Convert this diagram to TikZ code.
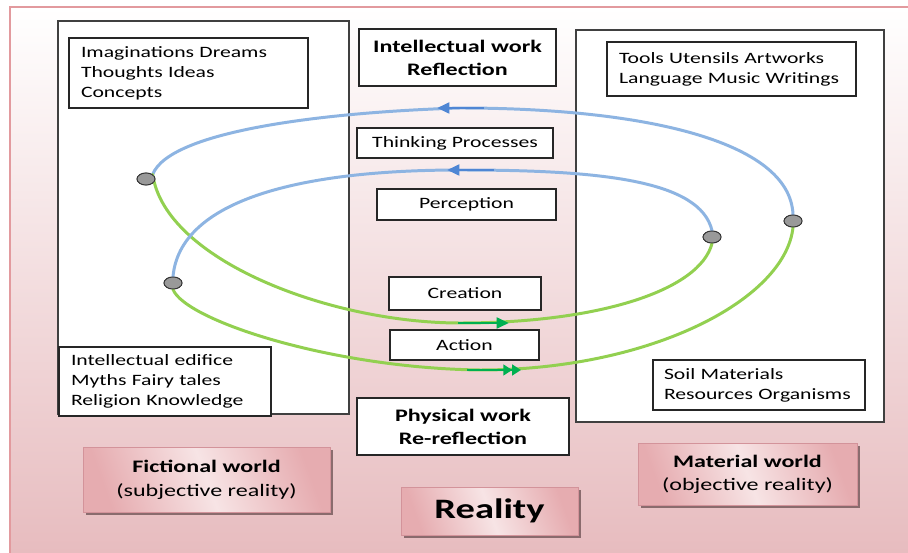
\documentclass[tikz,border=0pt]{standalone}
\usepackage{fontspec}
\setmainfont[FakeStretch=1.37]{Carlito}
\usetikzlibrary{arrows.meta,shadows,shapes.geometric}

\definecolor{bgpink}{HTML}{E7BCBF}
\definecolor{framepink}{HTML}{E29A9E}
\definecolor{tagpink}{HTML}{E6ACB0}
\definecolor{taglight}{HTML}{F7E4E5}
\definecolor{tagline}{HTML}{D3939A}
\definecolor{loopblue}{HTML}{8DB4E2}
\definecolor{arrowblue}{HTML}{4F86D4}
\definecolor{loopgreen}{HTML}{92D050}
\definecolor{arrowgreen}{HTML}{00B050}
\newcommand{\px}{0.02cm}
\newcommand{\txt}{\fontsize{9}{11.3}\selectfont}
\newcommand{\hdr}{\fontsize{10}{13}\selectfont\bfseries}

\begin{document}
\begin{tikzpicture}[x=\px, y=-\px,
    world/.style={draw=black!75, fill=white, line width=0.6pt},
    rect/.style={draw=black!85, fill=white, line width=0.7pt, inner sep=0pt, align=center, font=\txt},
    list/.style={rect, align=left, text width=#1},
    tag/.style={draw=tagline, line width=0.5pt, top color=tagpink, bottom color=tagpink,
        middle color=taglight, shading angle=-70, inner sep=0pt, align=center,
        drop shadow={shadow xshift=1.5pt, shadow yshift=-1.5pt, fill=black!50!tagpink, opacity=0.8}},
    joint/.style={ellipse, draw=black!80, fill=black!40, line width=0.5pt, inner sep=0pt,
        minimum width=18*\px, minimum height=12*\px},
    loop/.style={line width=1.7pt, line cap=round},
    tip/.style={line width=1.7pt, -{Triangle[length=7pt, width=6pt]}}]

    % page
    \useasboundingbox (0,0) rectangle (908,553);
    \shade[top color=white, bottom color=bgpink] (10,7) rectangle (908,553);
    \draw[framepink, line width=0.8pt] (10,553) -- (10,7) -- (908,7);

    % the two worlds
    \draw[world] (58,21) rectangle (349,414);
    \draw[world] (576,30) rectangle (884,422);

    % joints of the loops
    \node[joint] (d1) at (146,179) {};
    \node[joint] (d2) at (173,283) {};
    \node[joint] (d3) at (712,237) {};
    \node[joint] (d4) at (793,221) {};

    \coordinate (top-1) at (460,108);
    \coordinate (top-2) at (460,170);
    \coordinate (bot-1) at (460,323);
    \coordinate (bot-2) at (480,370);

    % outer and inner loop
    \draw[loop, loopblue] (d4.north) .. controls (790,140) and (640,108) .. (top-1)
        .. controls (330,112) and (170,130) .. (d1.north east);
    \draw[loop, loopgreen] (d1.north east) .. controls (165,260) and (330,323) .. (bot-1)
        .. controls (600,323) and (700,290) .. (d3.south);
    \draw[loop, loopblue] (d3.north) .. controls (700,180) and (600,170) .. (top-2)
        .. controls (300,170) and (180,200) .. (d2.north);
    \draw[loop, loopgreen] (d2.south) .. controls (185,320) and (330,368) .. (bot-2)
        .. controls (650,370) and (785,300) .. (d4.south);
    \node[joint] at (d1) {};
    \node[joint] at (d2) {};
    \node[joint] at (d3) {};
    \node[joint] at (d4) {};

    % direction marks
    \coordinate (a1-s) at (484,108); \coordinate (a1-e) at (437,108);
    \coordinate (a2-s) at (494,170); \coordinate (a2-e) at (447,170);
    \coordinate (a3-s) at (458,323); \coordinate (a3-e) at (509,323);
    \coordinate (a4-s) at (467,370); \coordinate (a4-e) at (521,370);
    \draw[tip, arrowblue] (a1-s) -- (a1-e);
    \draw[tip, arrowblue] (a2-s) -- (a2-e);
    \draw[tip, arrowgreen] (a3-s) -- (a3-e);
    \draw[line width=1.7pt, arrowgreen, -{Triangle[length=5pt, width=6pt]Triangle[length=5pt, width=6pt]}] (a4-s) -- (a4-e);

    % contents of the worlds
    \node[list=4.30cm, minimum width=239*\px, minimum height=70*\px] (box-fict-1) at (188.5,73)
        {Imaginations Dreams\\Thoughts Ideas\\Concepts};
    \node[list=3.76cm, minimum width=212*\px, minimum height=69*\px] (box-fict-2) at (165,381.5)
        {Intellectual edifice\\Myths Fairy tales\\Religion Knowledge};
    \node[list=4.50cm, minimum width=249*\px, minimum height=54*\px] (box-mat-1) at (731.5,69)
        {Tools Utensils Artworks\\Language Music Writings};
    \node[list=3.80cm, minimum width=212*\px, minimum height=50*\px] (box-mat-2) at (759,385)
        {Soil Materials\\Resources Organisms};

    % middle column
    \node[rect, font=\hdr, minimum width=197*\px, minimum height=57*\px] (box-work-1) at (457.5,57.5)
        {Intellectual work\\Reflection};
    \node[rect, minimum width=196*\px, minimum height=30*\px] (box-mid-1) at (455,143) {Thinking Processes};
    \node[rect, minimum width=179*\px, minimum height=31*\px] (box-mid-2) at (466.5,204.5) {Perception};
    \node[rect, minimum width=152*\px, minimum height=33*\px] (box-mid-3) at (465,293.5) {Creation};
    \node[rect, minimum width=149*\px, minimum height=30*\px] (box-mid-4) at (464.5,345) {Action};
    \node[rect, font=\hdr, minimum width=212*\px, minimum height=57*\px] (box-work-2) at (463,426.5)
        {Physical work\\Re-reflection};

    % captions
    \node[tag, font=\fontsize{10}{13.6}\selectfont, minimum width=247*\px, minimum height=65*\px] (tag-fict) at (206.5,479.5)
        {\textbf{Fictional world}\\(subjective reality)};
    \node[tag, font=\fontsize{10}{13.1}\selectfont, minimum width=219*\px, minimum height=62*\px] (tag-mat) at (747.5,474)
        {\textbf{Material world}\\(objective reality)};
    \node[tag, font=\fontsize{16}{18}\selectfont\bfseries, minimum width=177*\px, minimum height=48*\px] (tag-real) at (489.5,511)
        {Reality};

\end{tikzpicture}
\end{document}
